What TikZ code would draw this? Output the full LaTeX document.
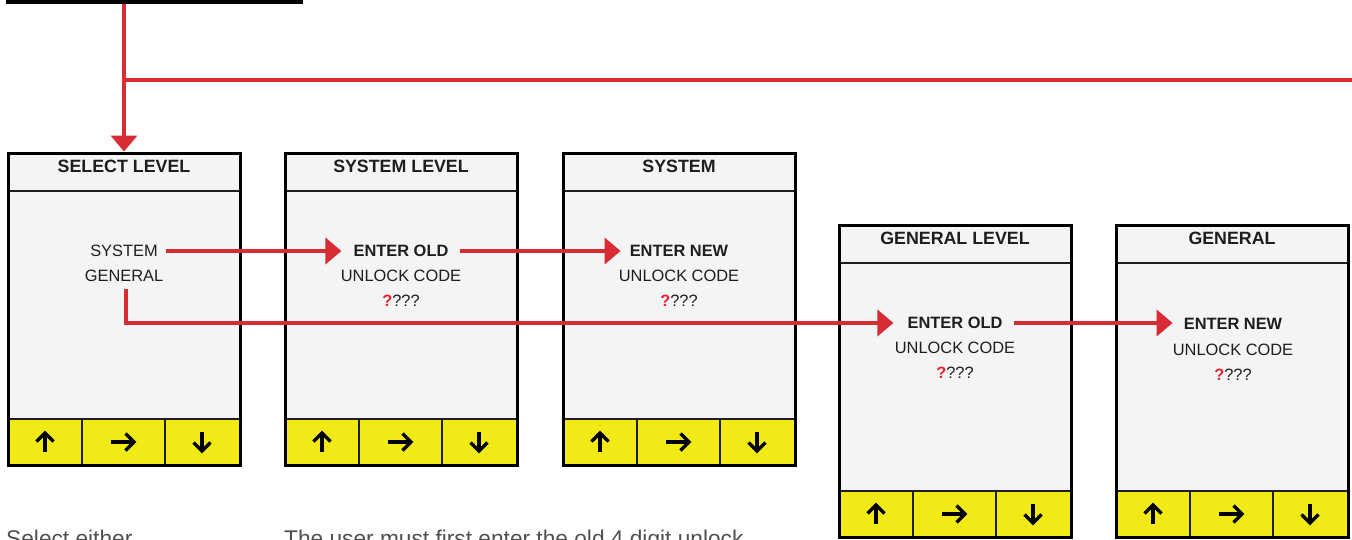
\documentclass[tikz,border=0pt]{standalone}
\usepackage{fontspec}
\setmainfont{Liberation Sans}
\usetikzlibrary{arrows.meta}
\definecolor{scrfill}{HTML}{F3F4F6}
\definecolor{btnyellow}{HTML}{F2EA16}
\definecolor{arrowred}{HTML}{D82C34}
\definecolor{qred}{HTML}{E8232B}
\definecolor{txtdark}{HTML}{1E1E1E}
\definecolor{bottomgray}{HTML}{505050}
\tikzset{
  screenframe/.style={draw=black, line width=3pt, minimum width=232pt, minimum height=312pt, inner sep=0pt},
  sepline/.style={draw=txtdark, line width=1.8pt},
  btnarrow/.style={draw=black, line width=3.4pt, miter limit=10},
  titletext/.style={font=\fontsize{17.8}{20}\selectfont\bfseries, text=txtdark, inner sep=0pt},
  bodytext/.style={font=\fontsize{16.4}{19}\selectfont, text=txtdark, inner sep=0pt},
  boldtext/.style={font=\fontsize{16.4}{19}\selectfont\bfseries, text=txtdark, inner sep=0pt},
  redarrow/.style={draw=arrowred, line width=4pt, -{Triangle[length=16pt,width=26pt]}},
  redline/.style={draw=arrowred, line width=4pt},
  bottomtext/.style={font=\fontsize{22.7}{26}\selectfont, text=bottomgray, inner sep=0pt, anchor=base west}
}
\newcommand{\DrawScreen}[4]{%
  \begin{scope}[shift={(#2,#3)}]
    \fill[scrfill] (0,0) rectangle (232,312);
    \fill[btnyellow] (0,266) rectangle (232,312);
    \draw[sepline] (0,38) -- (232,38);
    \draw[sepline] (0,266) -- (232,266);
    \draw[sepline] (74,266) -- (74,312);
    \draw[sepline] (157,266) -- (157,312);
    \node[screenframe] (#1) at (116,156) {};
    \node[titletext] (#1t) at (116,13) {#4};
    \draw[btnarrow] (37,299) -- (37,280);
    \draw[btnarrow] (28.5,288.5) -- (37,280) -- (45.5,288.5);
    \draw[btnarrow] (103,289) -- (126,289);
    \draw[btnarrow] (117.5,280.5) -- (126,289) -- (117.5,297.5);
    \draw[btnarrow] (194,279) -- (194,298);
    \draw[btnarrow] (185.5,289.5) -- (194,298) -- (202.5,289.5);
  \end{scope}}
\begin{document}
\begin{tikzpicture}[x=1pt,y=-1pt]
\useasboundingbox (0,0) rectangle (1352,539);
\fill[white] (0,0) rectangle (1352,539);
% black bar at top
\fill[black] (6,0) rectangle (303,4);
\coordinate (topsrc) at (124,4);
\coordinate (branch) at (124,80);
\coordinate (rightend) at (1354,80);

\DrawScreen{scrA}{8}{153}{SELECT LEVEL}
\DrawScreen{scrB}{285}{153}{SYSTEM LEVEL}
\DrawScreen{scrC}{563}{153}{SYSTEM}
\DrawScreen{scrD}{839}{225}{GENERAL LEVEL}
\DrawScreen{scrE}{1116}{225}{GENERAL}

% screen A body
\node[bodytext] (aSys) at (124,251) {SYSTEM};
\node[bodytext] (aGen) at (124,276) {GENERAL};
% screen B body
\node[boldtext] (bOld) at (401,251) {ENTER OLD};
\node[bodytext] (bCode) at (401,276) {UNLOCK CODE};
\node[bodytext] (bQ) at (401,301) {{\color{qred}\bfseries ?}???};
% screen C body
\node[boldtext] (cNew) at (679,251) {ENTER NEW};
\node[bodytext] (cCode) at (679,276) {UNLOCK CODE};
\node[bodytext] (cQ) at (679,301) {{\color{qred}\bfseries ?}???};
% screen D body
\node[boldtext] (dOld) at (955,323) {ENTER OLD};
\node[bodytext] (dCode) at (955,348) {UNLOCK CODE};
\node[bodytext] (dQ) at (955,373) {{\color{qred}\bfseries ?}???};
% screen E body
\node[boldtext] (eNew) at (1233,324) {ENTER NEW};
\node[bodytext] (eCode) at (1233,350) {UNLOCK CODE};
\node[bodytext] (eQ) at (1233,375) {{\color{qred}\bfseries ?}???};

% red connectors
\draw[redarrow] (topsrc) -- (scrA.north);
\draw[redline] (branch) -- (rightend);
\draw[redarrow, shorten <=8pt, shorten >=12pt] (aSys.east) -- (aSys.east -| bOld.west);
\draw[redarrow, shorten <=11pt, shorten >=9pt] (bOld.east) -- (bOld.east -| cNew.west);
\draw[redarrow, shorten >=14pt] ([xshift=2pt,yshift=-7pt]aGen.south) |- (dOld.west);
\draw[redarrow, shorten <=11pt, shorten >=11pt] (dOld.east) -- (dOld.east -| eNew.west);

% bottom captions (cut off by the frame, as in the reference)
\node[bottomtext] (capA) at (6,546) {Select either};
\node[bottomtext] (capB) at (284,546) {The user must first enter the old 4 digit unlock};
\end{tikzpicture}
\end{document}
